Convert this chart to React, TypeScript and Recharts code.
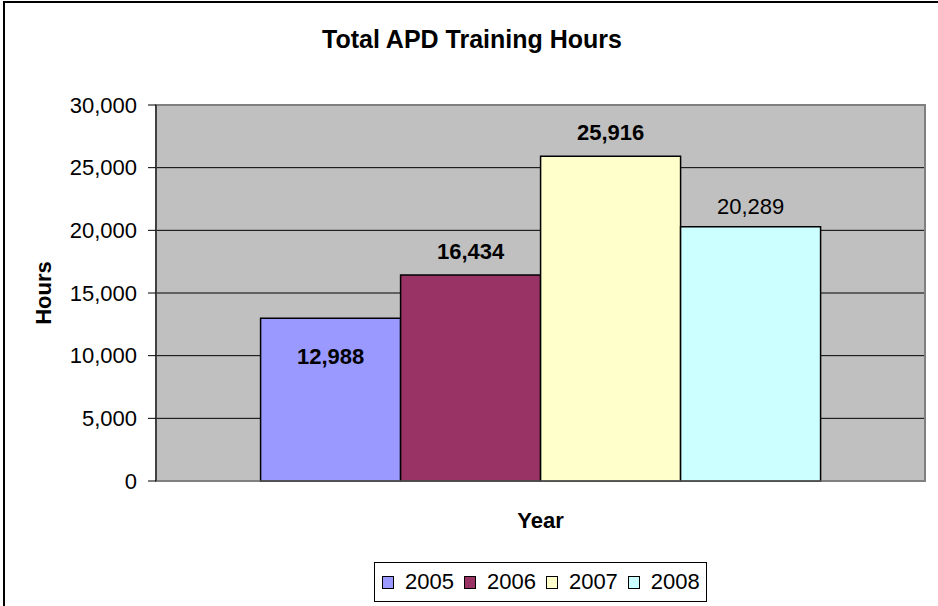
import {
  BarChart,
  Bar,
  XAxis,
  YAxis,
  CartesianGrid,
  LabelList,
  Label,
  ReferenceArea,
} from "recharts";

const years = ["2005", "2006", "2007", "2008"];
const hours = [12988, 16434, 25916, 20289];
const colors = ["#9999FF", "#993366", "#FFFFCC", "#CCFFFF"];
const yTicks = [0, 5000, 10000, 15000, 20000, 25000, 30000];

const row: Record<string, number | string> = { name: "Year" };
years.forEach((y, i) => {
  row[y] = hours[i];
});
const chartData = [row];

const FONT = "Liberation Sans, Arial, sans-serif";
const fmt = (v: number) => v.toLocaleString("en-US");

const LegendBox = () => (
  <div
    style={{
      position: "absolute",
      left: 374,
      top: 562,
      display: "flex",
      alignItems: "center",
      border: "1px solid #000",
      width: 333,
      height: 40,
      boxSizing: "border-box",
      paddingLeft: 7,
      fontFamily: FONT,
      fontSize: 22,
      background: "#fff",
    }}
  >
    {years.map((y, i) => (
      <div key={y} style={{ display: "flex", alignItems: "center", marginRight: 10 }}>
        <span
          style={{
            display: "inline-block",
            width: 10,
            height: 11,
            background: colors[i],
            border: "1px solid #000",
            marginRight: 11,
          }}
        />
        <span>{y}</span>
      </div>
    ))}
  </div>
);

const App = () => {
  return (
    <div
      style={{
        position: "absolute",
        left: 0,
        top: 0,
        width: 938,
        height: 606,
        background: "#fff",
        fontFamily: FONT,
      }}
    >
      <div
        style={{
          position: "absolute",
          left: 3,
          top: 1,
          width: 935,
          height: 605,
          borderTop: "2px solid #000",
          borderLeft: "2px solid #000",
        }}
      />
      <div
        style={{
          position: "absolute",
          left: 0,
          top: 25,
          width: 944,
          textAlign: "center",
          fontWeight: "bold",
          fontSize: 25,
        }}
      >
        Total APD Training Hours
      </div>
      <BarChart
        width={938}
        height={606}
        data={chartData}
        margin={{ top: 105, right: 13, bottom: 0, left: 0 }}
        barCategoryGap="13.6%"
        barGap={0}
        style={{ position: "absolute", left: 0, top: 0 }}
      >
        <CartesianGrid vertical={false} stroke="#000" fill="#C0C0C0" />
        <ReferenceArea y1={0} y2={30000} fill="none" stroke="#808080" strokeWidth={2} />
        <XAxis
          dataKey="name"
          tick={false}
          tickLine={false}
          axisLine={{ stroke: "#808080" }}
          height={125}
        >
          <Label
            value="Year"
            position="insideTop"
            offset={31}
            style={{ fontFamily: FONT, fontSize: 22, fontWeight: "bold", fill: "#000" }}
          />
        </XAxis>
        <YAxis
          domain={[0, 30000]}
          ticks={yTicks}
          width={156}
          tickSize={8}
          tickMargin={11}
          tickFormatter={fmt}
          axisLine={{ stroke: "#000" }}
          tickLine={{ stroke: "#000" }}
          tick={{ fontFamily: FONT, fontSize: 22, fill: "#000" }}
          interval={0}
        >
          <Label
            value="Hours"
            angle={-90}
            position="insideLeft"
            offset={43}
            style={{ fontFamily: FONT, fontSize: 22, fontWeight: "bold", fill: "#000", textAnchor: "middle" }}
          />
        </YAxis>
        {years.map((y, i) => (
          <Bar
            key={y}
            dataKey={y}
            fill={colors[i]}
            stroke="#000"
            strokeWidth={1.5}
            isAnimationActive={false}
          >
            <LabelList
              dataKey={y}
              position={i === 0 ? "insideTop" : "top"}
              offset={i === 0 ? 30 : i === 3 ? 13 : 16}
              formatter={(v: any) => fmt(Number(v))}
              style={{
                fontFamily: FONT,
                fontSize: 22,
                fontWeight: i === 3 ? "normal" : "bold",
                fill: "#000",
              }}
            />
          </Bar>
        ))}
      </BarChart>
      <LegendBox />
    </div>
  );
};

export default App;
